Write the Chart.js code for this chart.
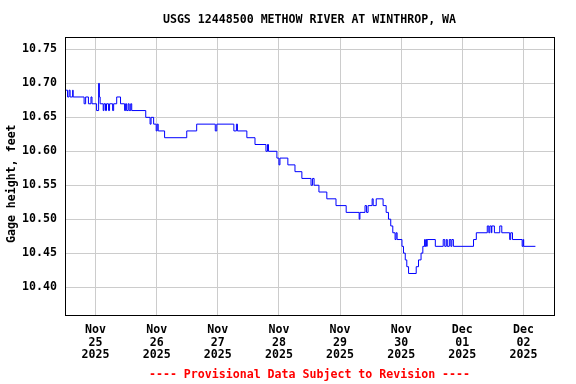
<!DOCTYPE html>
<html>
<head>
<meta charset="utf-8">
<script src="https://cdn.jsdelivr.net/npm/chart.js@4/dist/chart.umd.min.js"></script>
<style>
html,body{margin:0;padding:0;background:#fff;}
#c{display:block;}
</style>
</head>
<body>
<canvas id="c" width="576" height="384"></canvas>
<script>
// Hours since Nov 25 2025 00:00 (value holds until next time)
const hours = [
  -12.0, -11.0, -10.4, -10.0, -9.0, -8.8, -4.5, -3.9, -2.8, -1.8, -1.4,
  0.4, 1.2, 1.5, 1.8, 3.0, 3.3, 3.9, 4.3, 5.1, 5.5, 6.7, 7.1, 8.3, 9.8,
  11.4, 11.8, 12.2, 12.8, 13.2, 13.8, 14.2, 19.7, 21.4, 21.8, 22.8, 23.8,
  24.2, 24.6, 27.1, 35.8, 39.7, 47.0, 47.6, 54.3, 55.3, 55.7, 59.4, 62.6,
  66.9, 67.5, 67.9, 71.2, 72.0, 72.4, 75.5, 78.3, 81.0, 84.6, 85.2, 85.8,
  87.7, 90.8, 94.4, 98.4, 103.5, 103.8, 105.8, 106.4, 107.0, 108.6, 109.0,
  110.2, 112.9, 114.1, 115.0, 115.9, 116.7, 117.6, 118.0, 118.4, 120.3,
  120.9, 121.6, 122.2, 122.9, 125.9, 126.8, 127.8, 128.5, 129.2, 129.4,
  129.7, 130.0, 130.2, 133.4, 136.5, 137.1, 137.7, 138.1, 138.9, 139.5,
  139.9, 140.5, 148.4, 149.5, 153.8, 154.4, 154.8, 155.4, 155.6, 156.6,
  158.7, 159.5, 162.6, 163.0, 163.7, 167.5, 167.9, 168.1, 172.7
];
const gageFeet = [
  10.69, 10.68, 10.69, 10.68, 10.69, 10.68, 10.67, 10.68, 10.67, 10.68, 10.67,
  10.66, 10.70, 10.68, 10.67, 10.66, 10.67, 10.66, 10.67, 10.66, 10.67, 10.66, 10.67, 10.68, 10.67,
  10.66, 10.67, 10.66, 10.67, 10.66, 10.67, 10.66, 10.65, 10.64, 10.65, 10.64, 10.63,
  10.64, 10.63, 10.62, 10.63, 10.64, 10.63, 10.64, 10.63, 10.64, 10.63, 10.62, 10.61,
  10.60, 10.61, 10.60, 10.59, 10.58, 10.59, 10.58, 10.57, 10.56, 10.55, 10.56, 10.55,
  10.54, 10.53, 10.52, 10.51, 10.50, 10.51, 10.52, 10.51, 10.52, 10.53, 10.52,
  10.53, 10.52, 10.51, 10.50, 10.49, 10.48, 10.47, 10.48, 10.47, 10.46,
  10.45, 10.44, 10.43, 10.42, 10.43, 10.44, 10.45, 10.46, 10.47, 10.46,
  10.47, 10.46, 10.47, 10.46, 10.47, 10.46, 10.47, 10.46, 10.47, 10.46,
  10.47, 10.46, 10.47, 10.48, 10.49, 10.48, 10.49, 10.48, 10.49, 10.48,
  10.49, 10.48, 10.47, 10.48, 10.47, 10.46, 10.47, 10.46, 10.46
];
const xTickHours = [0, 24, 48, 72, 96, 120, 144, 168];
const xTickLabels = [
  ["Nov", "25", "2025"], ["Nov", "26", "2025"], ["Nov", "27", "2025"],
  ["Nov", "28", "2025"], ["Nov", "29", "2025"], ["Nov", "30", "2025"],
  ["Dec", "01", "2025"], ["Dec", "02", "2025"]
];
const yTickValues = [10.40, 10.45, 10.50, 10.55, 10.60, 10.65, 10.70, 10.75];

const titleText = "USGS 12448500 METHOW RIVER AT WINTHROP, WA";
const footerText = "---- Provisional Data Subject to Revision ----";
const yTitleText = "Gage height, feet";

const FONT = { family: "'DejaVu Sans Mono', 'Liberation Mono', monospace", size: 11.6, weight: "bold", lineHeight: 1.2 };
const TICKFONT = { family: FONT.family, size: 11.6, weight: "bold", lineHeight: 1.1 };

const framePlugin = {
  id: "frame",
  afterDraw(chart) {
    const { ctx, chartArea } = chart;
    const l = Math.floor(chartArea.left) + 0.5;
    const t = Math.floor(chartArea.top) + 0.5;
    const r = Math.floor(chartArea.right) + 0.5;
    const b = Math.floor(chartArea.bottom) + 0.5;
    ctx.save();
    ctx.strokeStyle = "#000";
    ctx.lineWidth = 1;
    ctx.strokeRect(l, t, r - l, b - t);
    ctx.restore();
  }
};

new Chart(document.getElementById("c"), {
  type: "line",
  data: {
    datasets: [{
      data: hours.map((h, i) => ({ x: h, y: gageFeet[i] })),
      borderColor: "#0000ff",
      borderWidth: 1,
      pointRadius: 0,
      stepped: true,
      fill: false,
      tension: 0
    }]
  },
  options: {
    responsive: false,
    animation: false,
    devicePixelRatio: 1,
    layout: { padding: { left: 0, right: 22, top: 0, bottom: 0 } },
    plugins: {
      legend: { display: false },
      tooltip: { enabled: false },
      title: {
        display: true, text: titleText, fullSize: false, color: "#000",
        font: FONT, padding: { top: 13, bottom: 11 }
      },
      subtitle: {
        display: true, text: footerText, position: "bottom", fullSize: false, color: "#ff0000",
        font: FONT, padding: { top: 4, bottom: 2.5 }
      }
    },
    scales: {
      x: {
        type: "linear", min: -12, max: 180,
        afterBuildTicks: (s) => { s.ticks = xTickHours.map(v => ({ value: v })); },
        afterFit: (s) => { s.height = 48; },
        ticks: {
          autoSkip: false, maxRotation: 0, minRotation: 0, padding: 8, color: "#000", font: TICKFONT,
          callback: (v) => { const i = xTickHours.indexOf(v); return i >= 0 ? xTickLabels[i] : ""; }
        },
        grid: { color: "#cccccc", lineWidth: 1, drawTicks: false },
        border: { display: false }
      },
      y: {
        type: "linear", min: 10.358, max: 10.767,
        afterBuildTicks: (s) => { s.ticks = yTickValues.map(v => ({ value: v })); },
        afterFit: (s) => { s.width = 65; },
        ticks: {
          padding: 8, color: "#000", font: TICKFONT,
          callback: (v) => Number(v).toFixed(2)
        },
        grid: { color: "#cccccc", lineWidth: 1, drawTicks: false },
        border: { display: false },
        title: {
          display: true, text: yTitleText + "  ", color: "#000", font: FONT,
          padding: { top: 5, bottom: 0 }
        }
      }
    }
  },
  plugins: [framePlugin]
});
</script>
</body>
</html>
